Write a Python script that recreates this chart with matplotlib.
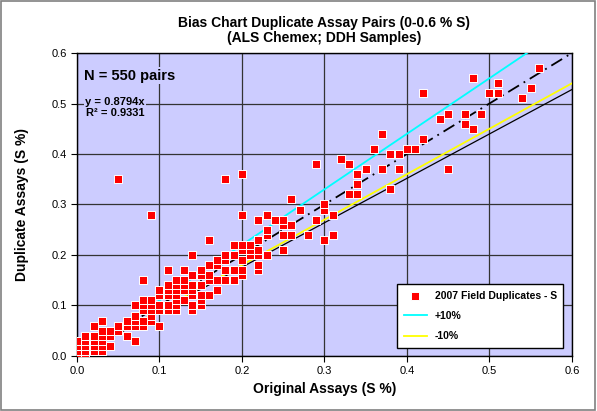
import numpy as np
import matplotlib.pyplot as plt
from matplotlib.patches import Rectangle

plt.rcParams['font.family'] = ['Liberation Sans', 'DejaVu Sans']

# duplicate pairs (many overlap on the 0.01 grid)
orig = [0.00, 0.00, 0.00, 0.00,
        0.01, 0.01, 0.01, 0.01, 0.01,
        0.02, 0.02, 0.02, 0.02, 0.02,
        0.03, 0.03, 0.03, 0.03, 0.03, 0.03,
        0.04, 0.04, 0.04,
        0.05, 0.05, 0.05,
        0.06, 0.06, 0.06,
        0.07, 0.07, 0.07, 0.07, 0.07,
        0.08, 0.08, 0.08, 0.08, 0.08, 0.08,
        0.09, 0.09, 0.09, 0.09, 0.09, 0.09,
        0.10, 0.10, 0.10, 0.10, 0.10,
        0.11, 0.11, 0.11, 0.11, 0.11, 0.11,
        0.12, 0.12, 0.12, 0.12, 0.12, 0.12, 0.12,
        0.13, 0.13, 0.13, 0.13, 0.13,
        0.14, 0.14, 0.14, 0.14, 0.14, 0.14, 0.14,
        0.15, 0.15, 0.15, 0.15, 0.15, 0.15,
        0.16, 0.16, 0.16, 0.16, 0.16,
        0.17, 0.17, 0.17, 0.17,
        0.18, 0.18, 0.18, 0.18, 0.18,
        0.19, 0.19, 0.19, 0.19,
        0.20, 0.20, 0.20, 0.20, 0.20, 0.20, 0.20,
        0.21, 0.21, 0.21,
        0.22, 0.22, 0.22, 0.22, 0.22, 0.22,
        0.23, 0.23, 0.23, 0.23,
        0.24,
        0.25, 0.25, 0.25, 0.25,
        0.26, 0.26, 0.26,
        0.27, 0.28, 0.29, 0.29,
        0.30, 0.30, 0.30,
        0.31, 0.31, 0.32, 0.33, 0.33,
        0.34, 0.34, 0.34, 0.35, 0.36,
        0.37, 0.37, 0.38, 0.38, 0.39, 0.39,
        0.40, 0.41, 0.42, 0.42, 0.44, 0.45, 0.45,
        0.47, 0.47, 0.48, 0.48, 0.49, 0.50, 0.51, 0.51,
        0.54, 0.55, 0.56]
dup = [0.00, 0.01, 0.02, 0.03,
       0.00, 0.01, 0.02, 0.03, 0.04,
       0.01, 0.02, 0.03, 0.04, 0.06,
       0.01, 0.02, 0.03, 0.04, 0.05, 0.07,
       0.02, 0.04, 0.05,
       0.05, 0.06, 0.35,
       0.04, 0.06, 0.07,
       0.03, 0.06, 0.07, 0.08, 0.10,
       0.06, 0.07, 0.09, 0.10, 0.11, 0.15,
       0.07, 0.08, 0.09, 0.10, 0.11, 0.28,
       0.06, 0.09, 0.10, 0.12, 0.13,
       0.09, 0.10, 0.12, 0.13, 0.14, 0.17,
       0.09, 0.10, 0.11, 0.12, 0.13, 0.14, 0.15,
       0.11, 0.13, 0.14, 0.15, 0.17,
       0.09, 0.10, 0.12, 0.13, 0.14, 0.16, 0.20,
       0.10, 0.11, 0.12, 0.14, 0.16, 0.17,
       0.12, 0.15, 0.16, 0.18, 0.23,
       0.13, 0.15, 0.18, 0.19,
       0.15, 0.17, 0.19, 0.20, 0.35,
       0.15, 0.17, 0.20, 0.22,
       0.16, 0.17, 0.19, 0.21, 0.22, 0.28, 0.36,
       0.20, 0.21, 0.22,
       0.17, 0.18, 0.20, 0.21, 0.23, 0.27,
       0.20, 0.24, 0.25, 0.28,
       0.27,
       0.21, 0.24, 0.26, 0.27,
       0.24, 0.26, 0.31,
       0.29, 0.24, 0.27, 0.38,
       0.23, 0.29, 0.30,
       0.24, 0.28, 0.39, 0.32, 0.38,
       0.32, 0.34, 0.36, 0.37, 0.41,
       0.37, 0.44, 0.33, 0.40, 0.37, 0.40,
       0.41, 0.41, 0.43, 0.52, 0.47, 0.37, 0.48,
       0.46, 0.48, 0.45, 0.55, 0.48, 0.52, 0.52, 0.54,
       0.51, 0.53, 0.57]

slope = 0.8794
r2 = 0.9331
xline = np.array([0.0, 0.6])

fig = plt.figure(figsize=(5.97, 4.11), dpi=100)
fig.patches.append(Rectangle((0.002, 0.003), 0.995, 0.994, transform=fig.transFigure,
                             fill=False, edgecolor='#808080', linewidth=1.2))
ax = fig.add_axes([0.129, 0.134, 0.829, 0.737])
ax.set_facecolor('#CCCCFF')

ax.scatter(orig, dup, marker='s', s=38, color='#FF0000', edgecolors='white',
           linewidths=0.7, zorder=4, label='2007 Field Duplicates - S')
ax.plot(xline, 1.1 * xline, color='#00FFFF', lw=1.3, zorder=3, label='+10%')
ax.plot(xline, 0.9 * xline, color='#FFFF00', lw=1.3, zorder=3, label='-10%')
ax.plot(xline, xline, color='black', lw=1.3, dashes=(7, 3, 1, 3), zorder=3)
ax.plot(xline, slope * xline, color='black', lw=0.9, zorder=3)

ax.set_xlim(0, 0.6)
ax.set_ylim(0, 0.6)
ax.set_xticks(np.arange(0, 0.61, 0.1))
ax.set_yticks(np.arange(0, 0.61, 0.1))
ax.set_xticklabels(['0.0', '0.1', '0.2', '0.3', '0.4', '0.5', '0.6'])
ax.set_yticklabels(['0.0', '0.1', '0.2', '0.3', '0.4', '0.5', '0.6'])
ax.tick_params(labelsize=8, direction='out', length=4, width=0.8)
ax.grid(True, color='#333333', lw=0.9)
ax.set_axisbelow(True)
for sp in ax.spines.values():
    sp.set_color('black')
    sp.set_linewidth(1.0)

ax.set_xlabel('Original Assays (S %)', fontsize=10, fontweight='bold', labelpad=4)
ax.set_ylabel('Duplicate Assays (S %)', fontsize=10, fontweight='bold', labelpad=16)
ax.set_title('Bias Chart Duplicate Assay Pairs (0-0.6 % S)\n(ALS Chemex; DDH Samples)',
             fontsize=10, fontweight='bold', pad=8, linespacing=1.1)

bg = dict(facecolor='#CCCCFF', edgecolor='none', pad=1)
ax.text(0.009, 0.555, 'N = 550 pairs', fontsize=10.5, fontweight='bold', va='center',
        bbox=bg, zorder=5)
ax.text(0.046, 0.492, 'y = 0.8794x\nR\u00b2 = 0.9331', fontsize=8, fontweight='bold',
        ha='center', va='center', multialignment='center', linespacing=1.05,
        bbox=bg, zorder=5)

leg = ax.legend(loc='lower right', frameon=True, fancybox=False,
                edgecolor='black', framealpha=1, borderpad=0.6, labelspacing=1.0,
                handlelength=2.2, prop={'weight': 'bold', 'size': 7.5},
                bbox_to_anchor=(0.993, 0.01))
leg.get_frame().set_linewidth(1.0)

fig.savefig('out.png', dpi=100)
